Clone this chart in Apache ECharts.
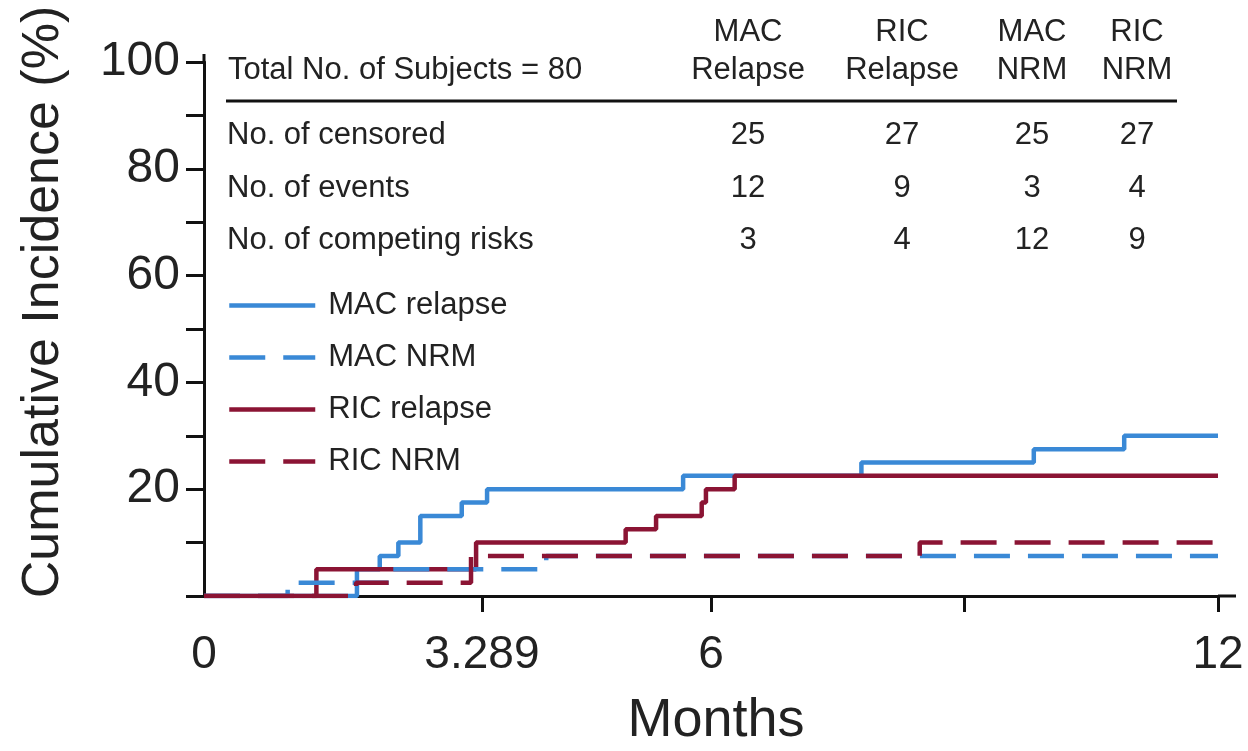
<!DOCTYPE html>
<html>
<head>
<meta charset="utf-8">
<script src="https://cdn.jsdelivr.net/npm/echarts@6/dist/echarts.min.js"></script>
<style>html,body{margin:0;padding:0;background:#fff}#c{width:1248px;height:751px}</style>
</head>
<body>
<div id="c"></div>
<script>
// ---- data ----
var seriesNames = ['MAC relapse', 'MAC NRM', 'RIC relapse', 'RIC NRM'];
var macRelapseT = [0, 1.81, 2.08, 2.30, 2.56, 3.05, 3.35, 5.67, 7.78, 9.82, 10.89, 12];
var macRelapseV = [0, 5, 7.5, 10, 15, 17.5, 20, 22.5, 25, 27.5, 30, 30];
var macNrmT = [0, 0.99, 2.2, 4.05, 12];
var macNrmV = [0, 2.5, 5, 7.5, 7.5];
var ricRelapseT = [0, 1.33, 3.22, 4.99, 5.35, 5.89, 5.94, 6.28, 12];
var ricRelapseV = [0, 5, 10, 12.5, 15, 17.5, 20, 22.5, 22.5];
var ricNrmT = [0, 1.80, 3.16, 8.47, 12];
var ricNrmV = [0, 2.5, 7.5, 10, 10];

var xLabelValues = [0, 3.289, 6, 12];
var xTickValues = [3.289, 6, 9, 12];
var yLabelValues = [20, 40, 60, 80, 100];

var tableTitle = 'Total No. of Subjects = 80';
var colHeaders = ['MAC\nRelapse', 'RIC\nRelapse', 'MAC\nNRM', 'RIC\nNRM'];
var rowLabels = ['No. of censored', 'No. of events', 'No. of competing risks'];
var censored = [25, 27, 25, 27];
var events = [12, 9, 3, 4];
var competing = [3, 4, 12, 9];

// ---- styles ----
var BLUE = '#3a89d6';
var RED = '#8b1434';
var TXT = '#222';
var REG = '"Liberation Sans", Arial, sans-serif';
var DASH = [36, 18];

function zip(t, v) { return t.map(function (x, i) { return [x, v[i]]; }); }

var chart = echarts.init(document.getElementById('c'), null, { renderer: 'canvas' });

var colX = [748, 902, 1032, 1137];
var rowY = [135, 188, 240];
var rowsData = [censored, events, competing];

var graphics = [];
graphics.push({ type: 'text', x: 228, y: 70, style: { text: tableTitle, font: '31px ' + REG, fill: TXT, verticalAlign: 'middle' } });
colHeaders.forEach(function (h, i) {
  graphics.push({ type: 'text', x: colX[i], y: 51, style: { text: h, font: '31px ' + REG, fill: TXT, align: 'center', verticalAlign: 'middle', lineHeight: 38 } });
});
graphics.push({ type: 'line', shape: { x1: 226, y1: 101, x2: 1177, y2: 101 }, style: { stroke: '#111', lineWidth: 3 } });
rowLabels.forEach(function (r, j) {
  graphics.push({ type: 'text', x: 227, y: rowY[j], style: { text: r, font: '31px ' + REG, fill: TXT, verticalAlign: 'middle' } });
  rowsData[j].forEach(function (v, i) {
    graphics.push({ type: 'text', x: colX[i], y: rowY[j], style: { text: String(v), font: '31px ' + REG, fill: TXT, align: 'center', verticalAlign: 'middle' } });
  });
});

function mk(name, data, color, dashed, z) {
  return {
    name: name, type: 'line', step: 'end', data: data, showSymbol: false, symbol: 'none',
    z: z, animation: false, silent: true,
    lineStyle: { color: color, width: 4.5, type: dashed ? DASH : 'solid', cap: 'butt' },
    itemStyle: { color: color }
  };
}

var legendData = seriesNames.map(function (n, i) {
  var dashed = (i === 1 || i === 3);
  var col = i < 2 ? BLUE : RED;
  return { name: n, itemStyle: { opacity: 0 }, lineStyle: { color: col, width: 4.5, type: dashed ? DASH : 'solid', opacity: 1 } };
});

chart.setOption({
  animation: false,
  grid: { left: 204, right: 30, top: 62, bottom: 155, containLabel: false, outerBoundsMode: 'none' },
  legend: {
    orient: 'vertical', left: 222, top: 285, itemWidth: 86, itemHeight: 20, itemGap: 21,
    data: legendData,
    itemStyle: { opacity: 0 },
    lineStyle: { width: 4.5 },
    textStyle: { fontSize: 31, fontFamily: REG, color: TXT, padding: [0, 0, 0, 8] }
  },
  xAxis: {
    type: 'value', min: 0, max: 12,
    name: 'Months', nameLocation: 'middle', nameGap: 98,
    nameTextStyle: { fontSize: 54, fontFamily: REG, color: TXT, padding: [0, 0, 0, 10] },
    axisLine: { show: true, lineStyle: { color: '#111', width: 3 } },
    axisTick: { show: true, customValues: xTickValues, length: 16, lineStyle: { color: '#111', width: 3 } },
    axisLabel: { customValues: xLabelValues, fontSize: 46, fontFamily: REG, color: TXT, margin: 36,
      formatter: function (v) { return String(v); } },
    splitLine: { show: false }
  },
  yAxis: {
    type: 'value', min: 0, max: 100, interval: 20,
    name: 'Cumulative Incidence (%)', nameLocation: 'middle', nameGap: 134, nameRotate: 90,
    nameTextStyle: { fontSize: 52, fontFamily: REG, color: TXT, padding: [0, 0, 0, 54] },
    axisLine: { show: true, lineStyle: { color: '#111', width: 3 } },
    axisTick: { show: true, length: 18, lineStyle: { color: '#111', width: 3 } },
    minorTick: { show: true, splitNumber: 2, length: 18, lineStyle: { color: '#111', width: 3 } },
    axisLabel: { customValues: yLabelValues, fontSize: 48, fontFamily: REG, color: TXT, margin: 24 },
    splitLine: { show: false }, minorSplitLine: { show: false }
  },
  series: [
    mk(seriesNames[0], zip(macRelapseT, macRelapseV), BLUE, false, 2),
    mk(seriesNames[1], zip(macNrmT, macNrmV), BLUE, true, 4),
    mk(seriesNames[2], zip(ricRelapseT, ricRelapseV), RED, false, 3),
    mk(seriesNames[3], zip(ricNrmT, ricNrmV), RED, true, 5)
  ],
  graphic: graphics
});

// small axis-line overhangs past the plot ends, as in the original figure
var pEnd = chart.convertToPixel({ gridIndex: 0 }, [12, 0]);
var pTop = chart.convertToPixel({ gridIndex: 0 }, [0, 100]);
graphics.push({ type: 'line', z: 10, shape: { x1: pEnd[0], y1: pEnd[1], x2: pEnd[0] + 18, y2: pEnd[1] }, style: { stroke: '#111', lineWidth: 3 } });
graphics.push({ type: 'line', z: 10, shape: { x1: pTop[0], y1: pTop[1], x2: pTop[0], y2: pTop[1] - 8 }, style: { stroke: '#111', lineWidth: 3 } });
chart.setOption({ graphic: graphics });
</script>
</body>
</html>
